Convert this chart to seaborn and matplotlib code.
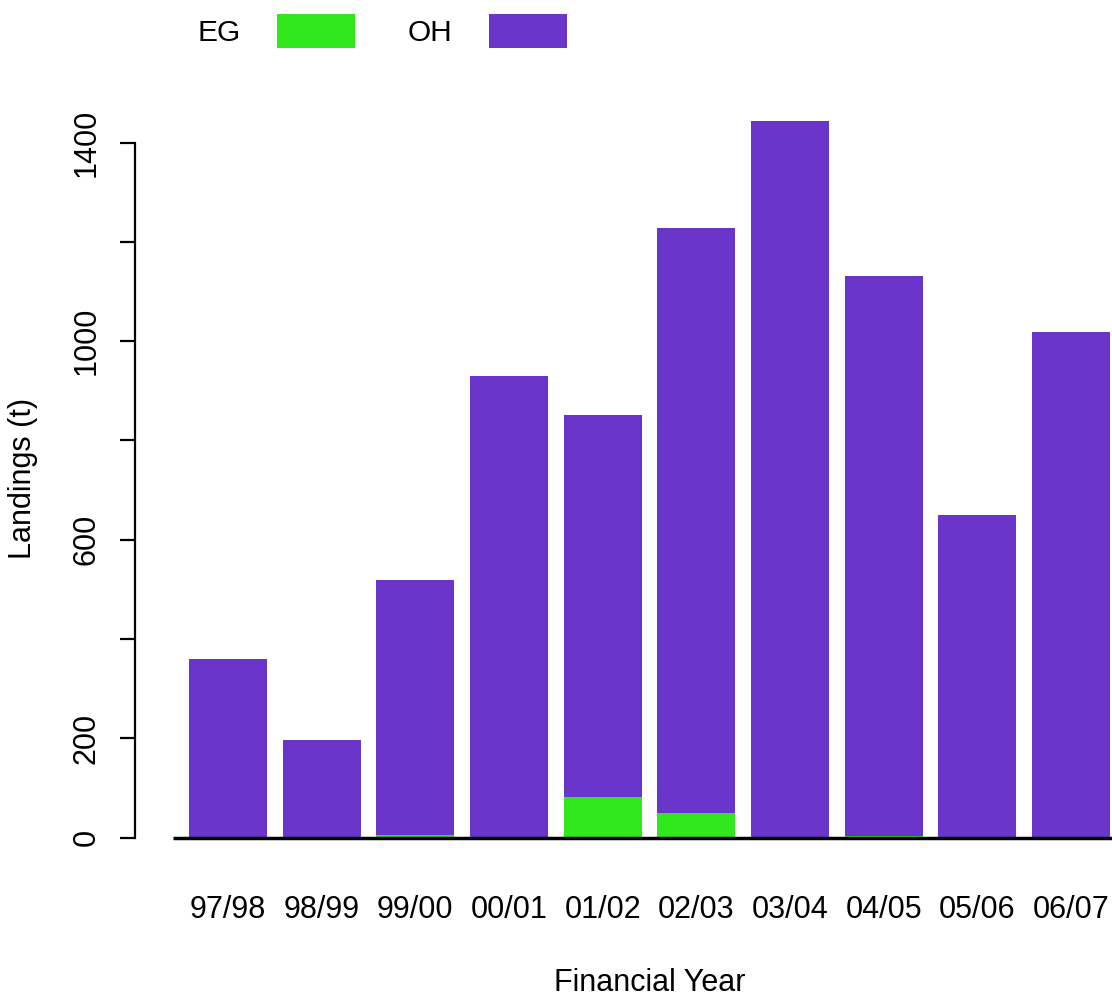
import matplotlib
matplotlib.use('Agg')
import matplotlib.pyplot as plt
import seaborn as sns
import pandas as pd
from matplotlib.patches import Patch

# Landings by financial year (t)
years = ['97/98', '98/99', '99/00', '00/01', '01/02',
         '02/03', '03/04', '04/05', '05/06', '06/07']
eg = [0, 0, 5, 1, 81, 50, 1, 4, 0, 0]
oh = [360, 196, 514, 929, 770, 1178, 1443, 1127, 650, 1018]

green = '#30E81C'
purple = '#6A35CB'

df = pd.DataFrame({'year': years, 'EG': eg, 'OH': oh})
df['total'] = df['EG'] + df['OH']

sns.set_style('white')
plt.rcParams['font.family'] = ['Liberation Sans', 'DejaVu Sans']
plt.rcParams['text.color'] = 'black'
plt.rcParams['axes.labelcolor'] = 'black'
plt.rcParams['xtick.color'] = 'black'
plt.rcParams['ytick.color'] = 'black'

fig = plt.figure(figsize=(11.12, 9.96), dpi=100)
ax = fig.add_axes([135 / 1112, 136 / 996, 977 / 1112, 760 / 996])

# stacked bars: total in purple, EG drawn over the bottom part
sns.barplot(data=df, x='year', y='total', color=purple, saturation=1,
            width=0.833, linewidth=0, ax=ax)
sns.barplot(data=df, x='year', y='EG', color=green, saturation=1,
            width=0.833, linewidth=0, ax=ax)

ax.set_xlim(-0.993, 9.438)
ax.set_ylim(-45.3, 1485.7)
ax.hlines(0, -0.59, 9.6, color='black', linewidth=2.5, zorder=5)

for s in ['top', 'right', 'bottom']:
    ax.spines[s].set_visible(False)
ax.spines['left'].set_bounds(0, 1400)
ax.spines['left'].set_linewidth(1.6)
ax.spines['left'].set_color('black')

ax.set_yticks([0, 200, 400, 600, 800, 1000, 1200, 1400])
ax.set_yticklabels(['0', '200', '', '600', '', '1000', '', '1400'],
                   rotation=90, va='center')
ax.tick_params(axis='y', left=True, length=11, width=1.6, pad=13,
               labelsize=22)
ax.tick_params(axis='x', bottom=False, length=0, pad=25, labelsize=22)

ax.set_xlabel('Financial Year', fontsize=22)
ax.set_ylabel('Landings (t)', fontsize=22)
ax.xaxis.set_label_coords(0.527, -0.162)
ax.xaxis.label.set_va('center')
ax.yaxis.set_label_coords(-0.1146, 0.5026)
ax.yaxis.label.set_va('center')

handles = [Patch(facecolor=green, edgecolor='none', label='EG'),
           Patch(facecolor=purple, edgecolor='none', label='OH')]
fig.legend(handles=handles, loc='upper left',
           bbox_to_anchor=(197 / 1112, 1 - 14 / 996), ncol=2,
           frameon=False, markerfirst=False, fontsize=21.5,
           handlelength=2.6, handleheight=1.38, handletextpad=1.24,
           columnspacing=1.76, borderpad=0, borderaxespad=0)

fig.savefig('out.png', dpi=100)
